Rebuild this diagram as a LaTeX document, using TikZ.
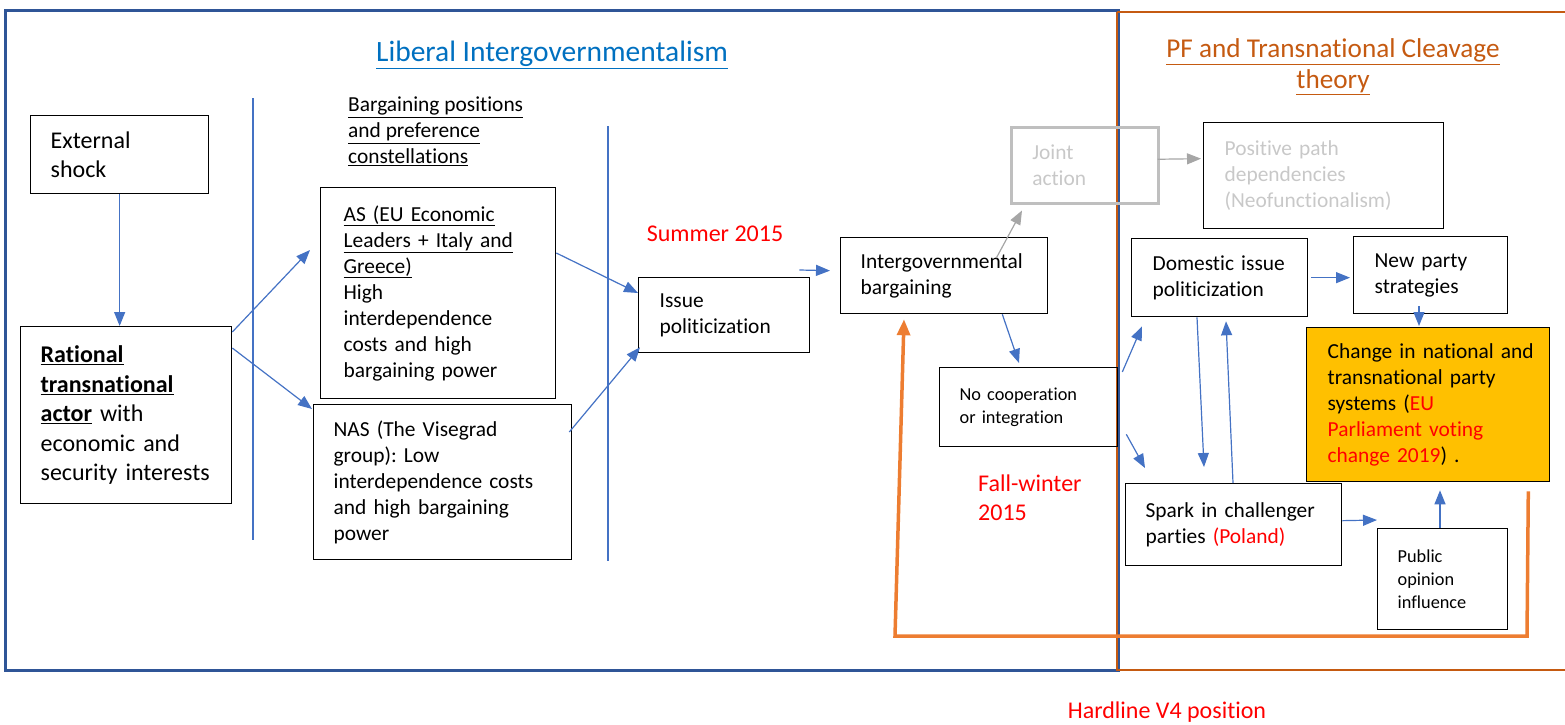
\documentclass[tikz,border=0pt]{standalone}
\usepackage{fontspec}
\setmainfont{Carlito}[Ligatures=NoCommon]
\usetikzlibrary{arrows.meta,calc}
\definecolor{liblue}{HTML}{2F5597}
\definecolor{pforange}{HTML}{C55A11}
\definecolor{arrblue}{HTML}{4472C4}
\definecolor{titleblue}{HTML}{0070C0}
\definecolor{hlorange}{HTML}{ED7D31}
\definecolor{goldfill}{HTML}{FFC000}
\definecolor{ltgray}{HTML}{BFBFBF}
\definecolor{txtgray}{HTML}{C8C8C8}
\definecolor{midgray}{HTML}{A6A6A6}
\definecolor{txtred}{HTML}{FF0000}
\lefthyphenmin=62
\righthyphenmin=62
\begin{document}
\begin{tikzpicture}[x=1pt,y=-1pt,
  box/.style={draw=black, line width=1.3pt, rectangle, anchor=north west, align=left,
    inner ysep=0pt, font=\fontsize{21.4}{26}\selectfont},
  bigfont/.style={font=\fontsize{24}{29.5}\selectfont},
  smallfont/.style={font=\fontsize{18.3}{23}\selectfont},
  arr/.style={draw=arrblue, line width=1.2pt, -{Triangle[length=14pt,width=11pt]}},
  grayarr/.style={draw=midgray, line width=1.2pt, -{Triangle[length=14pt,width=11pt]}},
  orarr/.style={draw=hlorange, line width=3.5pt, -{Triangle[length=16pt,width=13pt]}},
  divider/.style={draw=arrblue, line width=1.2pt},
  redlabel/.style={text=txtred, font=\fontsize{24}{29}\selectfont, align=left, inner sep=0pt}
]
\useasboundingbox (0,0) rectangle (1565,724);

% frames
\draw[liblue, line width=3pt] (5,10) rectangle (1118,670);
\draw[pforange, line width=2.5pt] (1117,12) -- (1570,12);
\draw[pforange, line width=2.5pt] (1117,12) -- (1117,670) -- (1570,670);

% titles
\node[text=titleblue, font=\fontsize{29.5}{33}\selectfont, inner sep=0pt] (t1) at (552,55) {\underline{Liberal Intergovernmentalism}};
\node[text=pforange, font=\fontsize{27.2}{31}\selectfont, align=center, inner sep=0pt] (t2) at (1333,67) {\underline{PF and Transnational Cleavage}\\\underline{theory}};

% dividers
\draw[divider] (253,98) -- (253,540);
\draw[divider] (608,126) -- (608,561);

% header text
\node[anchor=north west, align=left, inner sep=0pt, font=\fontsize{21.4}{26}\selectfont] (bp) at (348,97)
  {\underline{Bargaining~positions}\\\underline{and~preference}\\\underline{constellations}};

% boxes
\node[box, bigfont, minimum width=178pt, minimum height=78pt, inner xsep=20pt, text width=138pt] (ext) at (30,115)
  {External\\shock};
\node[box, bigfont, minimum width=211pt, minimum height=177pt, inner xsep=20pt, text width=171pt] (rat) at (20,326)
  {\textbf{\underline{Rational}}\\\textbf{\underline{transnational}}\\\textbf{\underline{actor}}~with\\economic~and\\security~interests};
\node[box, minimum width=235pt, minimum height=211pt, inner xsep=23pt, text width=189pt] (as) at (320,187)
  {\underline{AS~(EU~Economic}\\\underline{Leaders~+~Italy~and}\\\underline{Greece)}\\High\\interdependence\\costs~and~high\\bargaining~power};
\node[box, minimum width=258pt, minimum height=155pt, inner xsep=20pt, text width=218pt] (nas) at (313,404)
  {NAS~(The~Visegrad\\group):~Low\\interdependence~costs\\and~high~bargaining\\power};
\node[box, minimum width=171pt, minimum height=75pt, inner xsep=21pt, text width=129pt] (issue) at (638,277)
  {Issue\\politicization};
\node[box, minimum width=207pt, minimum height=76pt, inner xsep=20pt, text width=167pt] (igb) at (840,237)
  {Intergovernmental\\bargaining};
\node[box, draw=ltgray, line width=2.5pt, text=txtgray, minimum width=147pt, minimum height=76pt, inner xsep=21pt, text width=105pt] (joint) at (1010,126)
  {Joint\\action};
\node[box, text=txtgray, minimum width=240pt, minimum height=106pt, inner xsep=21pt, text width=198pt] (pos) at (1203,122)
  {Positive~path\\dependencies\\(Neofunctionalism)};
\node[box, minimum width=176pt, minimum height=78pt, inner xsep=21pt, text width=134pt] (dom) at (1131,238)
  {Domestic~issue\\politicization};
\node[box, minimum width=154pt, minimum height=77pt, inner xsep=21pt, text width=112pt] (newp) at (1353,236)
  {New~party\\strategies};
\node[box, fill=goldfill, minimum width=243pt, minimum height=154pt, inner xsep=21pt, text width=201pt] (change) at (1306,327)
  {\mbox{Change~in~national~and}\\transnational~party\\systems~(\textcolor{txtred}{EU}\\\textcolor{txtred}{Parliament~voting}\\\textcolor{txtred}{change~2019})~.};
\node[box, smallfont, minimum width=178pt, minimum height=79pt, inner xsep=20pt, text width=138pt] (nocoop) at (939,367)
  {No~cooperation\\or~integration\\[10pt]};
\node[box, minimum width=216pt, minimum height=82pt, inner xsep=20pt, text width=176pt] (spark) at (1125,483)
  {Spark~in~challenger\\parties~\textcolor{txtred}{(Poland)}};
\node[box, smallfont, minimum width=130pt, minimum height=101pt, inner xsep=20pt, text width=90pt] (public) at (1377,528)
  {Public\\opinion\\influence};

% red labels
\node[redlabel] (summer) at (715,234) {Summer 2015};
\node[redlabel, anchor=north west] (fall) at (978,475) {Fall-winter\\2015};
\node[redlabel] (hard) at (1167,712) {Hardline V4 position};

% blue connectors
\draw[arr] (ext.south) -- (ext.south |- rat.north);
\draw[arr] ($(rat.north east)+(0,6)$) -- ($(as.north west)+(-10,63)$);
\draw[arr] ($(rat.north east)+(0,22)$) -- ($(nas.north west)+(-1,5)$);
\draw[arr] ($(as.north east)+(0,66)$) -- ($(issue.north west)+(0,16)$);
\draw[arr] ($(nas.north east)+(-3,28)$) -- ($(issue.south west)+(2,-6)$);
\draw[arr] ($(issue.north east)+(-11,-7)$) -- ($(igb.west)+(-10,-5)$);
\draw[arr] ($(igb.south east)+(-46,0)$) -- ($(nocoop.north west)+(80,-4)$);
\draw[arr] ($(nocoop.north east)+(4,5)$) -- ($(dom.south west)+(11,9)$);
\draw[arr] ($(nocoop.south east)+(8,-13)$) -- ($(spark.north west)+(20,-15)$);
\draw[arr] ($(dom.south west)+(66,0)$) -- ($(spark.north west)+(79,-16)$);
\draw[arr] ($(spark.north west)+(108,0)$) -- ($(dom.south west)+(95,4)$);
\draw[arr] ($(dom.east)+(3,0)$) -- ($(newp.west)+(-3,2.5)$);
\draw[arr] ($(newp.south west)+(66,-8)$) -- ($(change.north west)+(113,-1)$);
\draw[arr] ($(spark.east)+(0,-4)$) -- ($(public.north west)+(0,-8)$);
\draw[arr] ($(public.north west)+(63,0)$) -- ($(change.south west)+(134,8)$);

% gray connectors
\draw[grayarr] ($(igb.north east)+(-52,21)$) -- ($(joint.south west)+(12,6)$);
\draw[grayarr] ($(joint.east)+(-2,-6)$) -- ($(pos.west)+(-2,-17)$);

% orange feedback
\coordinate (ora) at ($(change.south east)+(-22,9)$);
\coordinate (orb) at (1527,636);
\coordinate (orc) at (895,636);
\draw[orarr] (ora) -- (orb) -- (orc) -- ($(igb.south west)+(64,5)$);
\end{tikzpicture}
\end{document}
